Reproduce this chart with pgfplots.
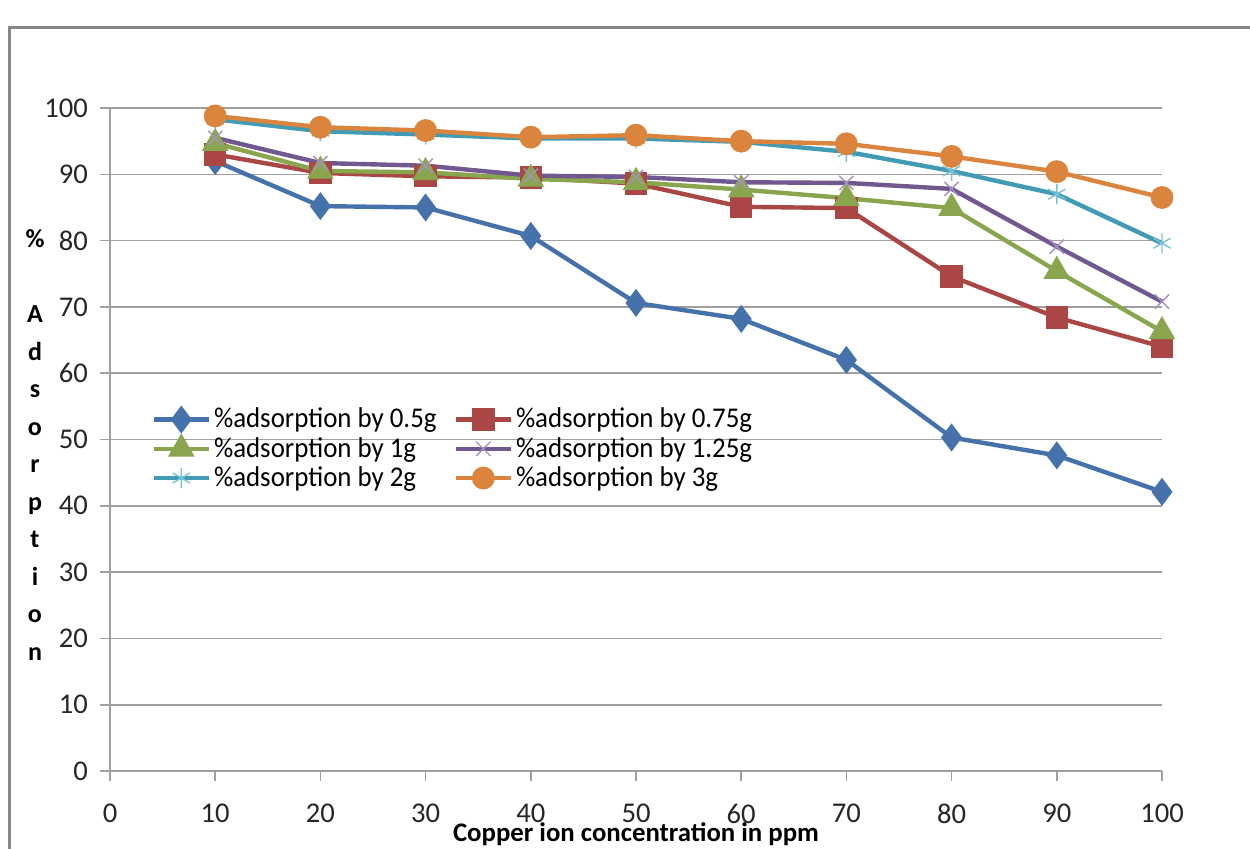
\documentclass[border=0pt]{standalone}
\usepackage{pgfplots}
\pgfplotsset{compat=1.18}
\usepackage{fontspec}
\setmainfont{Carlito}
\newfontfamily\legfont[FakeStretch=0.94]{Carlito}
\definecolor{cblue}{RGB}{69,114,170}
\definecolor{cred}{RGB}{170,70,67}
\definecolor{cgreen}{RGB}{137,165,78}
\definecolor{cpurple}{RGB}{113,88,143}
\definecolor{cpurplel}{RGB}{165,145,195}
\definecolor{ccyan}{RGB}{65,155,180}
\definecolor{ccyanl}{RGB}{120,195,215}
\definecolor{corange}{RGB}{219,132,61}
\definecolor{gridgray}{RGB}{160,160,160}
\definecolor{framegray}{RGB}{136,136,136}
\begin{document}
\begin{tikzpicture}[x=1pt,y=1pt]
\begin{axis}[
  scale only axis,
  width=526pt, height=331.5pt,
  xmin=0, xmax=100, ymin=0, ymax=100,
  xtick={0,10,...,100}, ytick={0,10,...,100},
  axis x line*=bottom, axis y line*=left,
  axis line style={gridgray, line width=0.8pt, -},
  tick align=outside,
  major tick length=5pt,
  tick style={gridgray, line width=0.8pt},
  ymajorgrids,
  grid style={gridgray, line width=0.8pt},
  ticklabel style={font=\fontsize{14.3}{16}\selectfont, text=black!85},
  /pgf/number format/assume math mode=true,
  xticklabel style={yshift=-8pt},
  yticklabel style={xshift=-2.5pt},
  legend columns=2,
  legend cell align=left,
  legend style={at={(rel axis cs:0.0335,0.560)}, anchor=north west, draw=none, fill=none,
    font=\legfont\fontsize{14.3}{16}\selectfont, row sep=-0.8pt,
    nodes={inner xsep=1.5pt},
    /tikz/every even column/.append style={column sep=7pt}},
  legend image code/.code={
    \draw[mark repeat=2,mark phase=2] plot coordinates {(0pt,0pt) (13.75pt,0pt) (27.5pt,0pt)};
  },
  clip=false,
]
\addplot[cblue, line width=2.2pt, mark=diamond*, mark size=5.2pt, mark options={solid}]
 coordinates {(10,92.0) (20,85.2) (30,85.0) (40,80.7) (50,70.6) (60,68.2) (70,62.0) (80,50.3) (90,47.6) (100,42.1)};
\addlegendentry{\%adsorption by 0.5g}
\addplot[cred, line width=2.2pt, mark=square*, mark size=4.5pt]
 coordinates {(10,93.0) (20,90.2) (30,89.7) (40,89.5) (50,88.6) (60,85.1) (70,84.9) (80,74.6) (90,68.4) (100,64.0)};
\addlegendentry{\%adsorption by 0.75g}
\addplot[cgreen, line width=2.2pt, mark=triangle*, mark size=5.5pt]
 coordinates {(10,94.7) (20,90.5) (30,90.3) (40,89.3) (50,88.8) (60,87.7) (70,86.4) (80,84.9) (90,75.4) (100,66.3)};
\addlegendentry{\%adsorption by 1g}
\addplot[cpurple, line width=2.2pt, mark=x, mark size=5pt, mark options={cpurplel, line width=0.7pt}]
 coordinates {(10,95.5) (20,91.7) (30,91.3) (40,89.8) (50,89.6) (60,88.8) (70,88.7) (80,87.8) (90,79.1) (100,70.8)};
\addlegendentry{\%adsorption by 1.25g}
\addplot[ccyan, line width=2.2pt, mark=asterisk, mark size=5pt, mark options={ccyanl, line width=0.7pt}]
 coordinates {(10,98.3) (20,96.5) (30,96.0) (40,95.4) (50,95.4) (60,94.9) (70,93.4) (80,90.5) (90,87.0) (100,79.6)};
\addlegendentry{\%adsorption by 2g}
\addplot[corange, line width=2.2pt, mark=*, mark size=4.6pt]
 coordinates {(10,98.8) (20,97.1) (30,96.6) (40,95.6) (50,95.9) (60,95.0) (70,94.6) (80,92.7) (90,90.4) (100,86.5)};
\addlegendentry{\%adsorption by 3g}
\node[font=\bfseries\fontsize{13}{18.75}\selectfont, align=center, anchor=center]
  at (rel axis cs:-0.0713,0.4917) {\%\\[18.75pt]A\\d\\s\\o\\r\\p\\t\\i\\o\\n};
\node[font=\bfseries\fontsize{13.4}{14}\selectfont, anchor=north]
  at (rel axis cs:0.5,-0.067) {Copper ion concentration in ppm};
\end{axis}
\draw[framegray, line width=1.5pt] (-50pt,-60pt) -- (-50pt,371.5pt) -- (600pt,371.5pt);
\pgfresetboundingbox
\path (-55pt,-38.5pt) rectangle (570pt,385.5pt);
\end{tikzpicture}
\end{document}
